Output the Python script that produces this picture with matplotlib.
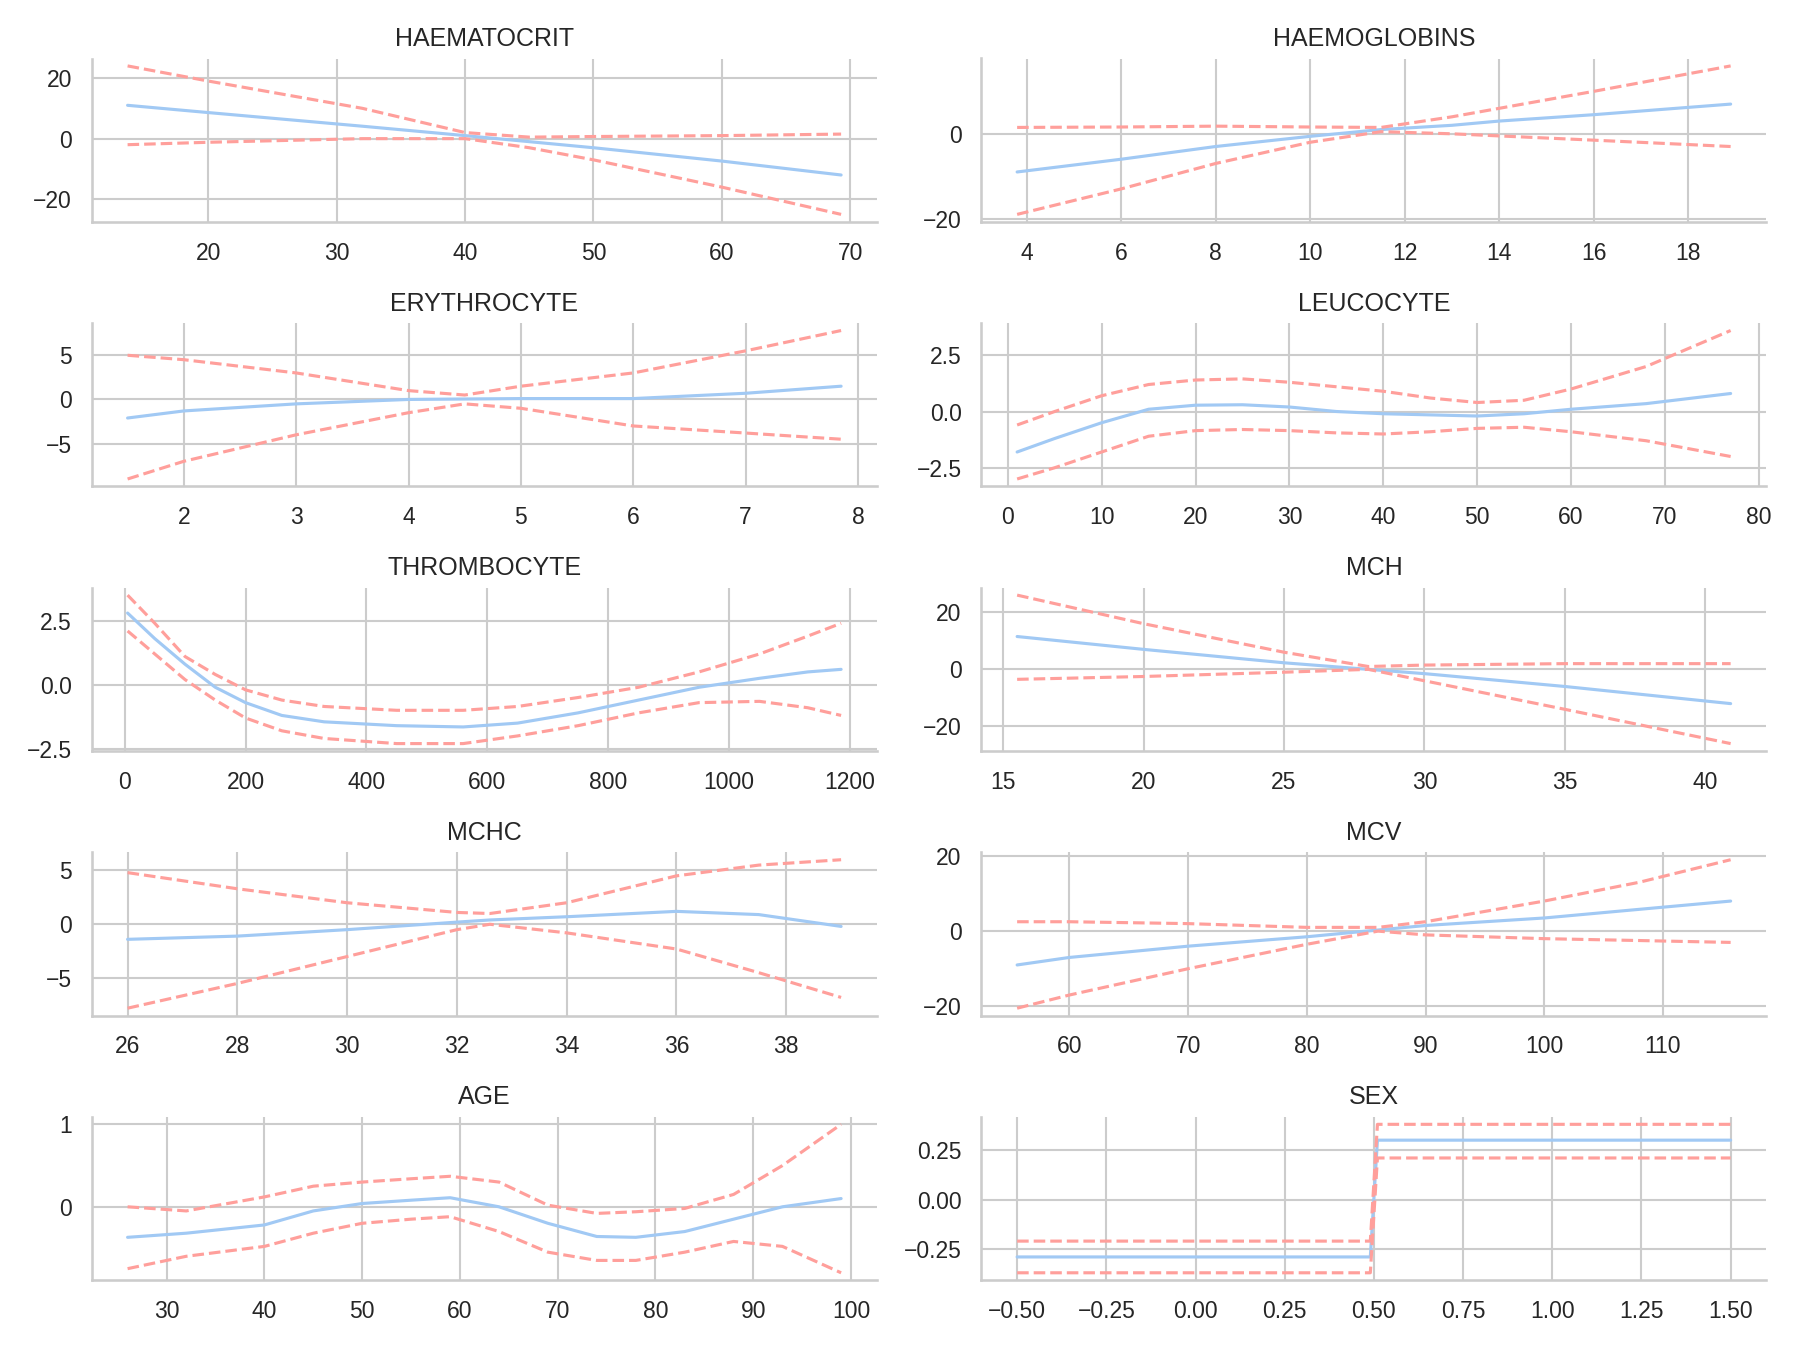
import matplotlib
matplotlib.use("Agg")
import matplotlib.pyplot as plt
import seaborn as sns

sns.set_theme(style="whitegrid")
plt.rcParams['font.family'] = ['Liberation Sans', 'DejaVu Sans']
pal = sns.color_palette("pastel")
BLUE, RED = pal[0], pal[3]

titles = ["HAEMATOCRIT", "HAEMOGLOBINS", "ERYTHROCYTE", "LEUCOCYTE", "THROMBOCYTE",
          "MCH", "MCHC", "MCV", "AGE", "SEX"]

haem_x = [13.7, 20, 32, 40, 45, 50, 60, 69.3]
haem_m = [11, 8.6, 4.1, 1, -1, -3, -7.4, -12]
haem_u = [24, 19, 10, 2, 0.5, 0.7, 1, 1.5]
haem_l = [-2, -1.2, 0, 0, -3, -7, -16, -25]

hgb_x = [3.8, 6, 8, 10, 11.5, 13, 14, 16, 18.9]
hgb_m = [-9, -6, -3, -0.6, 1, 2, 3, 4.5, 7]
hgb_u = [1.5, 1.6, 1.8, 1.6, 1.5, 4, 6, 10, 16]
hgb_l = [-19, -13, -7, -2, 0.5, 0, -0.5, -1.5, -3]

ery_x = [1.5, 2, 3, 4, 4.5, 5, 6, 7, 7.85]
ery_m = [-2.1, -1.3, -0.5, 0, 0.05, 0.1, 0.1, 0.7, 1.5]
ery_u = [5, 4.5, 3, 1, 0.5, 1.5, 3, 5.5, 7.8]
ery_l = [-9, -7, -4, -1.5, -0.5, -1, -3, -3.8, -4.5]

leu_x = [1, 5, 10, 15, 20, 25, 30, 35, 40, 45, 50, 55, 60, 68, 77]
leu_m = [-1.8, -1.2, -0.5, 0.1, 0.28, 0.3, 0.2, 0.0, -0.1, -0.15, -0.2, -0.1, 0.1, 0.35, 0.8]
leu_u = [-0.6, 0, 0.7, 1.2, 1.4, 1.45, 1.3, 1.1, 0.9, 0.6, 0.4, 0.5, 1.0, 2.0, 3.6]
leu_l = [-3, -2.5, -1.8, -1.1, -0.85, -0.8, -0.85, -0.95, -1.0, -0.9, -0.75, -0.7, -0.9, -1.3, -2.0]

thr_x = [5, 50, 100, 150, 200, 260, 330, 450, 560, 650, 750, 850, 950, 1050, 1130, 1185]
thr_m = [2.8, 1.8, 0.8, -0.1, -0.7, -1.2, -1.45, -1.6, -1.65, -1.5, -1.1, -0.6, -0.1, 0.25, 0.5, 0.6]
thr_u = [3.5, 2.4, 1.1, 0.4, -0.2, -0.6, -0.85, -1.0, -1.0, -0.85, -0.5, -0.1, 0.5, 1.2, 1.9, 2.4]
thr_l = [2.1, 1.2, 0.2, -0.6, -1.3, -1.8, -2.1, -2.3, -2.3, -2.0, -1.6, -1.1, -0.7, -0.65, -0.9, -1.2]

mch_x = [15.5, 20, 25, 28, 30, 35, 40.9]
mch_m = [11.5, 7, 2.3, 0, -1.5, -6, -12]
mch_u = [26, 16, 6, 1, 1.5, 2, 2]
mch_l = [-3.5, -2.5, -1, 0, -4, -14, -26]

mchc_x = [26, 28, 30, 32, 32.6, 34, 36, 37.5, 39]
mchc_m = [-1.4, -1.1, -0.5, 0.2, 0.4, 0.7, 1.2, 0.9, -0.2]
mchc_u = [4.8, 3.3, 2, 1.1, 1, 2, 4.5, 5.5, 6]
mchc_l = [-7.8, -5.5, -3, -0.5, 0, -0.8, -2.3, -4.5, -6.8]

mcv_x = [55.6, 60, 70, 80, 86, 90, 100, 108, 115.7]
mcv_m = [-9, -7, -4, -1.5, 0.3, 1.5, 3.5, 5.8, 8]
mcv_u = [2.5, 2.5, 2, 1, 1, 2.5, 8, 13, 19]
mcv_l = [-20.5, -17, -10, -3.5, 0, -1, -2, -2.5, -3]

age_x = [26, 32, 40, 45, 50, 55, 59, 64, 69, 74, 78, 83, 88, 93, 99]
age_m = [-0.37, -0.32, -0.22, -0.05, 0.04, 0.08, 0.11, 0.0, -0.2, -0.36, -0.37, -0.3, -0.15, 0.0, 0.1]
age_u = [0, -0.05, 0.12, 0.25, 0.3, 0.34, 0.37, 0.3, 0.02, -0.08, -0.06, -0.02, 0.15, 0.5, 1.0]
age_l = [-0.75, -0.6, -0.48, -0.32, -0.2, -0.15, -0.12, -0.3, -0.55, -0.65, -0.65, -0.55, -0.42, -0.48, -0.8]

sex_x = [-0.5, 0.49, 0.51, 1.5]
sex_m = [-0.29, -0.29, 0.3, 0.3]
sex_u = [-0.21, -0.21, 0.38, 0.38]
sex_l = [-0.37, -0.37, 0.21, 0.21]

data = [(haem_x, haem_m, haem_u, haem_l), (hgb_x, hgb_m, hgb_u, hgb_l),
        (ery_x, ery_m, ery_u, ery_l), (leu_x, leu_m, leu_u, leu_l),
        (thr_x, thr_m, thr_u, thr_l), (mch_x, mch_m, mch_u, mch_l),
        (mchc_x, mchc_m, mchc_u, mchc_l), (mcv_x, mcv_m, mcv_u, mcv_l),
        (age_x, age_m, age_u, age_l), (sex_x, sex_m, sex_u, sex_l)]

fig, axes = plt.subplots(5, 2, figsize=(12, 9), dpi=150)
for ax, t, (x, m, u, l) in zip(axes.flat, titles, data):
    ax.plot(x, m, color=BLUE, lw=1.5)
    ax.plot(x, u, color=RED, ls="--", lw=1.5)
    ax.plot(x, l, color=RED, ls="--", lw=1.5)
    ax.set_title(t, fontsize=12)
    ax.tick_params(labelsize=11)
    sns.despine(ax=ax)
axes[0, 0].set_yticks([-20, 0, 20])
axes[0, 1].set_yticks([-20, 0])
axes[2, 0].set_yticks([-2.5, 0, 2.5])
axes[4, 0].set_yticks([0, 1])
axes[4, 1].set_yticks([-0.25, 0, 0.25])
fig.tight_layout()
fig.savefig("out.png")
